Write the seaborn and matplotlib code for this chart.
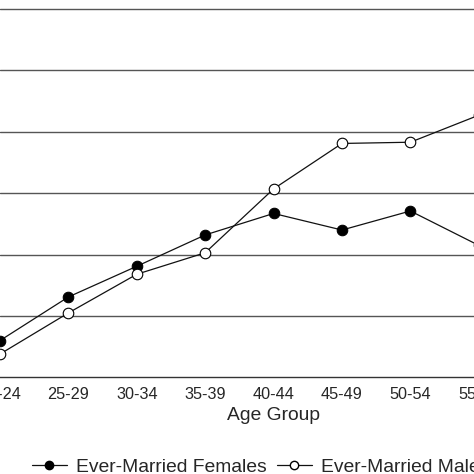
import pandas as pd
import seaborn as sns
import matplotlib.pyplot as plt
from matplotlib.lines import Line2D

# values (percent, gridlines every 10)
age_groups = ['20-24', '25-29', '30-34', '35-39', '40-44', '45-49', '50-54', '55-59']
females = [6.0, 13.1, 18.1, 23.2, 26.7, 24.0, 27.1, 21.5]
males = [3.8, 10.5, 16.8, 20.3, 30.7, 38.1, 38.3, 42.7]

df = pd.DataFrame({'age': age_groups, 'females': females, 'males': males})

sns.set_style('white')
plt.rcParams['font.family'] = ['Liberation Sans', 'DejaVu Sans']

fig = plt.figure(figsize=(4.74, 4.74), dpi=100)
# the chart is cropped: the axes runs past the left, right and top edges
ax = fig.add_axes([0.0, 0.2038, 1.1544, 0.9068])

sns.lineplot(data=df, x='age', y='females', ax=ax, color='#111111', lw=0.9,
             marker='o', markersize=7.6, markerfacecolor='black',
             markeredgecolor='black', sort=False)
sns.lineplot(data=df, x='age', y='males', ax=ax, color='#111111', lw=0.9,
             marker='o', markersize=7.6, markerfacecolor='white',
             markeredgecolor='black', markeredgewidth=0.8, sort=False)

ax.set_xlim(0, 8)
ax.set_ylim(0, 70)
ax.set_yticks([10, 20, 30, 40, 50, 60])
ax.yaxis.grid(True, color='#555555', lw=1.0)
ax.tick_params(axis='y', left=False, labelleft=False)
ax.tick_params(axis='x', direction='inout', length=7.5, width=0.8,
               color='#333333', labelsize=11.7, pad=3)
for s in ['left', 'right', 'top']:
    ax.spines[s].set_visible(False)
ax.spines['bottom'].set_color('#333333')
ax.spines['bottom'].set_linewidth(1.0)
ax.set_ylabel('')
ax.set_xlabel('Age Group', fontsize=13.9, labelpad=4)

handles = [
    Line2D([], [], color='#111111', lw=0.9, marker='o', markersize=6,
           markerfacecolor='black', markeredgecolor='black'),
    Line2D([], [], color='#111111', lw=0.9, marker='o', markersize=6,
           markerfacecolor='white', markeredgecolor='black'),
]
fig.legend(handles, ['Ever-Married Females', 'Ever-Married Males'],
           loc='center left', bbox_to_anchor=(32 / 474, 1 - 467 / 474),
           ncol=2, frameon=False, fontsize=13.9, handlelength=1.8,
           handletextpad=0.5, columnspacing=0.5, borderpad=0, borderaxespad=0)

fig.savefig('out.png', dpi=100)
